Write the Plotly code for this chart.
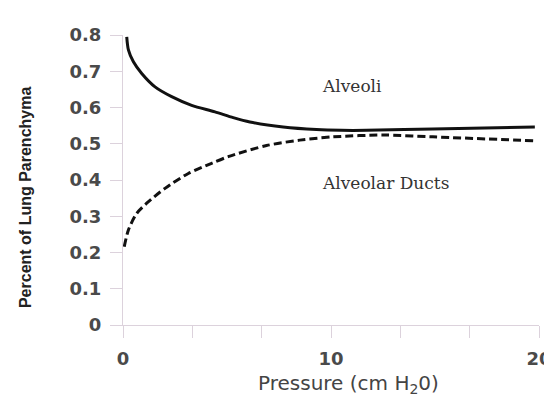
import plotly.graph_objects as go

# Data
pressure_alveoli = [0.18, 0.26, 0.5, 0.9, 1.54, 2.34, 3.3, 4.42, 5.3, 6.1, 7.7, 9.3, 10.5, 11.7, 14.9, 19.8]
alveoli = [0.795, 0.759, 0.726, 0.694, 0.657, 0.630, 0.606, 0.588, 0.572, 0.560, 0.546, 0.539, 0.537, 0.537, 0.541, 0.546]

pressure_ducts = [0.06, 0.26, 0.66, 1.14, 2.02, 3.14, 4.26, 5.14, 6.9, 8.5, 10.1, 12.5, 14.9, 19.8]
ducts = [0.216, 0.262, 0.308, 0.336, 0.377, 0.418, 0.446, 0.466, 0.495, 0.510, 0.519, 0.524, 0.519, 0.508]

x_tickvals = [0, 20/6, 40/6, 10, 80/6, 100/6, 20]
x_ticktext = ["0", "", "", "10", "", "", "20"]
y_tickvals = [0, 0.1, 0.2, 0.3, 0.4, 0.5, 0.6, 0.7, 0.8]
y_ticktext = ["0", "0.1", "0.2", "0.3", "0.4", "0.5", "0.6", "0.7", "0.8"]

axis_col = "#dcd2dc"
tick_font = dict(family="DejaVu Sans", size=18, color="#4a4a4a", weight="bold")

fig = go.Figure()
fig.add_trace(go.Scatter(x=pressure_alveoli, y=alveoli, mode="lines",
                         line=dict(color="#111111", width=3, shape="spline", smoothing=0.8),
                         name="Alveoli", showlegend=False))
fig.add_trace(go.Scatter(x=pressure_ducts, y=ducts, mode="lines",
                         line=dict(color="#111111", width=3, dash="8px,4px", shape="spline", smoothing=0.8),
                         name="Alveolar Ducts", showlegend=False))

# page body has an 8px margin, so the figure is drawn 8px in from the window's corner
fig.update_layout(
    width=544, height=394, autosize=False,
    margin=dict(l=115, r=13, t=27, b=77, autoexpand=False),
    plot_bgcolor="white", paper_bgcolor="white",
    xaxis=dict(range=[0, 20], tickvals=x_tickvals, ticktext=x_ticktext, showgrid=False, zeroline=False,
               showline=True, linecolor=axis_col, linewidth=1, ticks="outside", ticklen=12,
               tickcolor=axis_col, tickfont=tick_font, ticklabelstandoff=5, automargin=False),
    yaxis=dict(range=[0, 0.8], tickvals=y_tickvals, ticktext=y_ticktext, showgrid=False, zeroline=False,
               showline=True, linecolor=axis_col, linewidth=1, ticks="outside", ticklen=12,
               tickcolor=axis_col, tickfont=tick_font, ticklabelstandoff=5, automargin=False),
    annotations=[
        dict(text="Alveoli", x=9.47, y=0.659, xref="x", yref="y", xanchor="left", yanchor="middle",
             showarrow=False, font=dict(family="DejaVu Serif", size=17, color="#333333")),
        dict(text="Alveolar Ducts", x=9.47, y=0.392, xref="x", yref="y", xanchor="left", yanchor="middle",
             showarrow=False, font=dict(family="DejaVu Serif", size=17, color="#333333")),
        dict(text="Pressure (cm H<sub>2</sub>0)", x=0.541, y=-0.203, xref="paper", yref="paper",
             xanchor="center", yanchor="middle", showarrow=False,
             font=dict(family="DejaVu Sans", size=20, color="#444444")),
        dict(text="Percent of Lung Parenchyma", x=-0.233, y=0.438, xref="paper", yref="paper",
             xanchor="center", yanchor="middle", textangle=-90, showarrow=False,
             font=dict(family="Liberation Sans", size=16, color="#222222", weight="bold")),
    ],
)

fig.write_html("out.html")
